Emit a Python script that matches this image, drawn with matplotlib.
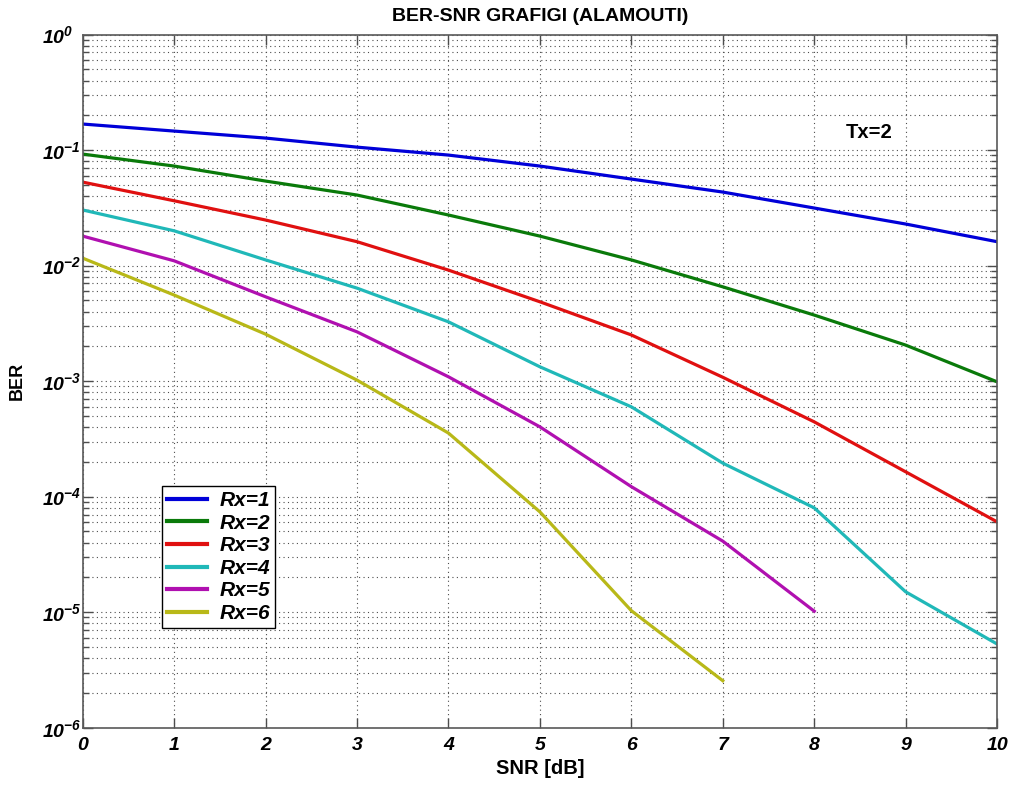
import matplotlib
matplotlib.use("Agg")
import matplotlib.pyplot as plt
from matplotlib.ticker import LogLocator, LogFormatterMathtext, NullFormatter, FixedLocator

plt.rcParams['font.family'] = ['Liberation Sans', 'DejaVu Sans']
plt.rcParams['mathtext.default'] = 'regular'

snr = [0, 1, 2, 3, 4, 5, 6, 7, 8, 9, 10]
ber_rx1 = [0.168, 0.146, 0.127, 0.106, 0.0905, 0.0727, 0.0561, 0.0433, 0.0315, 0.0229, 0.0161]
ber_rx2 = [0.0923, 0.0727, 0.0539, 0.0408, 0.0274, 0.0180, 0.0112, 0.00655, 0.00373, 0.00205, 0.000986]
ber_rx3 = [0.0528, 0.0364, 0.0248, 0.0161, 0.00914, 0.00486, 0.00251, 0.00108, 0.000444, 0.000164, 0.0000605]
ber_rx4 = [0.0303, 0.0200, 0.0112, 0.00638, 0.00326, 0.00133, 0.000599, 0.000195, 0.0000800, 0.0000150, 0.0000053]
ber_rx5 = [0.0180, 0.0110, 0.00537, 0.00267, 0.00109, 0.000402, 0.000122, 0.0000412, 0.0000102]
ber_rx6 = [0.0116, 0.00556, 0.00255, 0.00102, 0.000355, 0.0000738, 0.0000103, 0.00000255]
yticks = [1e-6, 1e-5, 1e-4, 1e-3, 1e-2, 1e-1, 1e0]

series = [ber_rx1, ber_rx2, ber_rx3, ber_rx4, ber_rx5, ber_rx6]
labels = ['Rx=1', 'Rx=2', 'Rx=3', 'Rx=4', 'Rx=5', 'Rx=6']
colors = ['#0000d8', '#0a7a0a', '#e01010', '#20b8b8', '#b010b0', '#b8b818']

fig = plt.figure(figsize=(10.16, 7.85), dpi=100, facecolor='white')
ax = fig.add_axes([0.0814, 0.073, 0.9, 0.883])

for vals, lab, col in zip(series, labels, colors):
    ax.semilogy(snr[:len(vals)], vals, color=col, linewidth=2.3, label=lab)

ax.set_xlim(0, 10)
ax.set_ylim(1e-6, 1)
ax.xaxis.set_major_locator(FixedLocator(snr))
ax.yaxis.set_major_locator(FixedLocator(yticks))
ax.yaxis.set_minor_locator(LogLocator(base=10, subs=[2, 3, 4, 5, 6, 7, 8, 9], numticks=20))
ax.yaxis.set_major_formatter(LogFormatterMathtext())
ax.yaxis.set_minor_formatter(NullFormatter())

gcol = '0.3'
ax.grid(True, which='major', axis='both', linestyle=(0, (1, 3)), linewidth=0.8, color=gcol)
ax.grid(True, which='minor', axis='y', linestyle=(0, (1, 3)), linewidth=0.8, color=gcol)

for sp in ax.spines.values():
    sp.set_color('0.35')
    sp.set_linewidth(1.2)

ax.tick_params(which='both', direction='in', top=True, right=True, color='0.3')
ax.tick_params(which='major', length=7, width=1)
ax.tick_params(which='minor', length=4, width=1)
ax.tick_params(axis='x', which='major', pad=7)
ax.tick_params(axis='y', which='major', pad=29)

for lbl in ax.get_xticklabels():
    lbl.set_fontsize(14)
    lbl.set_fontweight('bold')
    lbl.set_fontstyle('italic')
for lbl in ax.get_yticklabels():
    lbl.set_fontsize(14)
    lbl.set_fontweight('bold')
    lbl.set_fontstyle('italic')
    lbl.set_horizontalalignment('left')

ax.set_title('BER-SNR GRAFIGI (ALAMOUTI)', fontsize=14, fontweight='bold', pad=10)
ax.set_xlabel('SNR [dB]', fontsize=14.5, fontweight='bold', labelpad=3)
ax.set_ylabel('BER', fontsize=13, fontweight='bold', labelpad=12)

ax.text(8.35, 0.143, 'Tx=2', fontsize=14.5, fontweight='bold', va='center', ha='left')

leg = ax.legend(loc='upper left', bbox_to_anchor=(0.0868, 0.3487), borderaxespad=0,
                fancybox=False, framealpha=1, edgecolor='black',
                prop={'size': 15, 'weight': 'bold', 'style': 'italic'},
                labelspacing=0.17, handlelength=1.9, handletextpad=0.6, borderpad=0.25)
leg.get_frame().set_linewidth(1.0)
for l in leg.get_lines():
    l.set_linewidth(3)

fig.savefig('out.png', dpi=100, facecolor='white')
